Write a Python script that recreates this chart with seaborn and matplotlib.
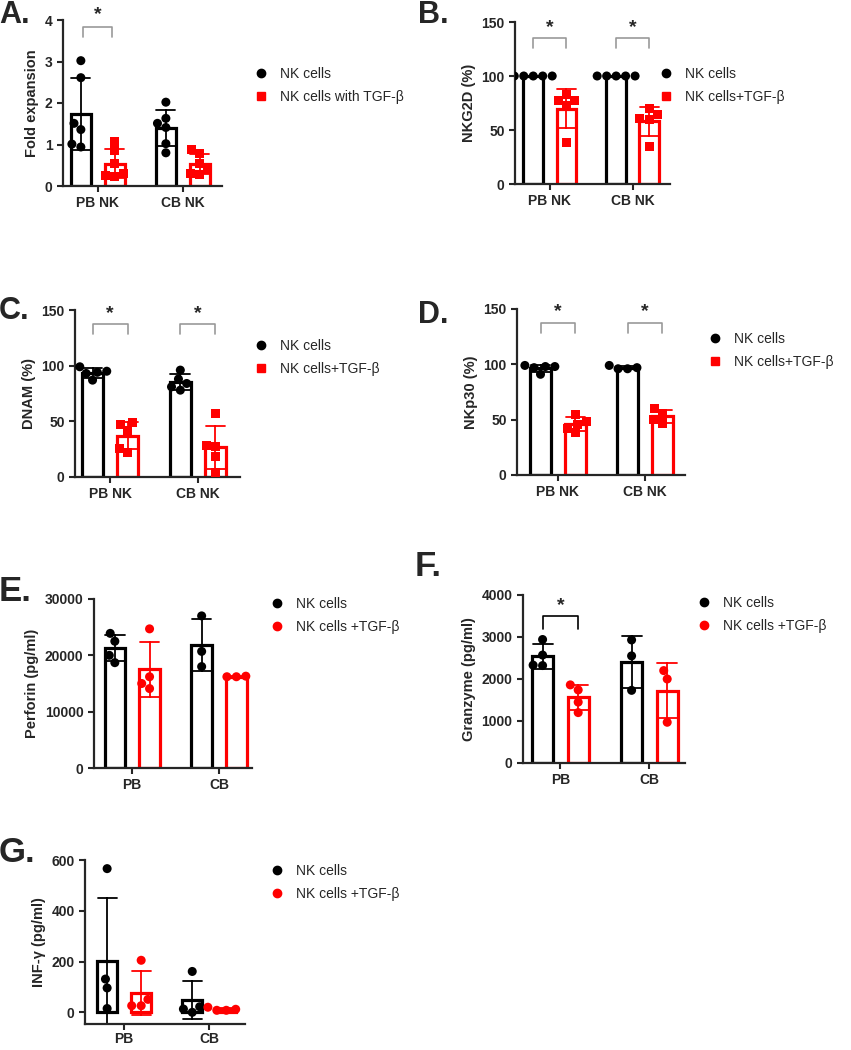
import numpy as np
import pandas as pd
import matplotlib
matplotlib.use("Agg")
import matplotlib.pyplot as plt
import seaborn as sns
from matplotlib.lines import Line2D

# A. fold expansion
a_groups = ["PB NK", "CB NK"]
a_nk = [[3.02, 2.61, 1.51, 1.36, 1.01, 0.94], [2.02, 1.63, 1.51, 1.41, 1.02, 0.80]]
a_tgf = [[1.08, 0.85, 0.55, 0.30, 0.25, 0.22], [0.87, 0.78, 0.55, 0.40, 0.30, 0.28]]

# B. NKG2D
b_nk = [[100, 100, 100, 100, 100], [100, 100, 100, 100, 100]]
b_tgf = [[83, 77, 77, 73, 38], [70, 64, 61, 60, 35]]

# C. DNAM
c_nk = [[99, 95, 94, 93, 87], [96, 88, 84, 81, 78]]
c_tgf = [[49, 47, 42, 26, 22], [57, 28, 27, 18, 4]]

# D. NKp30
d_nk = [[99, 98, 98, 97, 91], [99, 97, 96, 96]]
d_tgf = [[55, 48, 46, 42, 38], [60, 56, 50, 47]]

# E-G. cytokines
cyt_groups = ["PB", "CB"]
e_nk = [[23900, 22500, 20000, 18700], [27000, 20700, 18000]]
e_tgf = [[24700, 16200, 15000, 14100], [16200, 16300, 16200]]
f_nk = [[2940, 2570, 2330, 2320], [2930, 2550, 1730]]
f_tgf = [[1860, 1740, 1450, 1200], [2200, 2000, 970]]
g_nk = [[566, 131, 96, 15], [161, 22, 13, 0]]
g_tgf = [[205, 51, 26, 26], [20, 12, 8, 8]]

W, H = 851, 1050
RED = "#ff0000"
CLEAR = (0, 0, 0, 0)
conds = ["NK", "TGF"]
pal = {"NK": "black", "TGF": RED}

sns.set_style("ticks")
plt.rcParams["font.family"] = ["Liberation Sans", "DejaVu Sans"]

fig = plt.figure(figsize=(W / 100, H / 100), dpi=100)


def make_df(groups, nk, tgf):
    rows = []
    for g, vals in zip(groups, nk):
        rows += [(g, "NK", v) for v in vals]
    for g, vals in zip(groups, tgf):
        rows += [(g, "TGF", v) for v in vals]
    return pd.DataFrame(rows, columns=["group", "cond", "value"])


def panel(rect, groups, nk, tgf, markers, ylim, yticks, ylabel, xlim, xpad=3.5):
    l, t, r, b = rect
    ax = fig.add_axes([l / W, 1 - b / H, (r - l) / W, (b - t) / H])
    df = make_df(groups, nk, tgf)
    sns.barplot(data=df, x="group", y="value", hue="cond", hue_order=conds,
                order=groups, palette=pal, fill=False, errorbar="sd",
                capsize=0.45, err_kws={"linewidth": 1.3},
                linewidth=2.3, gap=0.41, legend=False, ax=ax)
    # error bars take the colour of their own bar
    for ln in ax.lines:
        xm = np.nanmean(np.asarray(ln.get_xdata(), dtype=float))
        ln.set_color("black" if xm - np.round(xm) < 0 else RED)
    # one swarm per condition so each can carry its own marker
    for cond, mk in zip(conds, markers):
        p = {c: (pal[c] if c == cond else CLEAR) for c in conds}
        sns.swarmplot(data=df, x="group", y="value", hue="cond", hue_order=conds,
                      order=groups, palette=p, dodge=True, marker=mk,
                      size=6.5, linewidth=0, legend=False, zorder=3,
                      warn_thresh=1, ax=ax)
    ax.set_xlim(*xlim)
    ax.set_ylim(*ylim)
    ax.set_yticks(yticks)
    ax.set_xlabel("")
    ax.set_ylabel(ylabel, fontsize=10.5, fontweight="bold", labelpad=4)
    sns.despine(ax=ax)
    for s in ["left", "bottom"]:
        ax.spines[s].set_linewidth(1.6)
    ax.tick_params(width=1.5, length=4, labelsize=10)
    ax.tick_params(axis="x", pad=xpad)
    for lab in ax.get_xticklabels() + ax.get_yticklabels():
        lab.set_fontweight("bold")
    return ax


def bracket(ax, x, lo, hi, star, color="#999999", half=0.2):
    x0, x1 = x - half, x + half
    ax.plot([x0, x0, x1, x1], [lo, hi, hi, lo], color=color, lw=1.2, clip_on=False)
    ax.text(x, star, "*", ha="center", va="center", fontsize=14, fontweight="bold",
            clip_on=False)


def legend(x, y, labels, markers):
    handles = [Line2D([], [], ls="", marker=m, color=c, markersize=6)
               for m, c in zip(markers, ["black", RED])]
    fig.legend(handles, labels, loc="upper left", bbox_to_anchor=(x / W, 1 - y / H),
               frameon=False, fontsize=10, handlelength=0.8, handletextpad=1.0,
               labelspacing=0.62, borderpad=0, borderaxespad=0)


def letter(x, y, s, size=22):
    fig.text(x / W, 1 - y / H, s, fontsize=size, fontweight="bold", va="top")


circ_sq = ["o", "s"]
circ = ["o", "o"]

ax = panel((63, 20, 222, 186), a_groups, a_nk, a_tgf, circ_sq, (0, 4), range(5),
           "Fold expansion", (-0.41, 1.46))
bracket(ax, 0, 3.6, 3.84, 4.12, half=0.17)
legend(255, 67, ["NK cells", "NK cells with TGF-β"], circ_sq)
letter(-1, 0, "A.")

ax = panel((515, 22, 670, 184), a_groups, b_nk, b_tgf, circ_sq, (0, 150),
           range(0, 151, 50), "NKG2D (%)", (-0.42, 1.45))
bracket(ax, 0, 126, 135, 145)
bracket(ax, 1, 126, 135, 145)
legend(660, 67, ["NK cells", "NK cells+TGF-β"], circ_sq)
letter(418, 0, "B.")

ax = panel((75, 310, 240, 477), a_groups, c_nk, c_tgf, circ_sq, (0, 150),
           range(0, 151, 50), "DNAM (%)", (-0.40, 1.48))
bracket(ax, 0, 128, 137, 147)
bracket(ax, 1, 128, 137, 147)
legend(255, 339, ["NK cells", "NK cells+TGF-β"], circ_sq)
letter(-1, 296, "C.")

ax = panel((517, 309, 685, 475), a_groups, d_nk, d_tgf, circ_sq, (0, 150),
           range(0, 151, 50), "NKp30 (%)", (-0.47, 1.46))
bracket(ax, 0, 128, 137, 148)
bracket(ax, 1, 128, 137, 148)
legend(709, 332, ["NK cells", "NK cells+TGF-β"], circ_sq)
letter(418, 300, "D.")

ax = panel((94, 599, 252, 768), cyt_groups, e_nk, e_tgf, circ, (0, 30000),
           range(0, 30001, 10000), "Perforin (pg/ml)", (-0.44, 1.38))
legend(271, 597, ["NK cells", "NK cells +TGF-β"], circ)
letter(-1, 575, "E.", 25)

ax = panel((523, 595, 685, 763), cyt_groups, f_nk, f_tgf, circ, (0, 4000),
           range(0, 4001, 1000), "Granzyme (pg/ml)", (-0.42, 1.40))
bracket(ax, 0, 3190, 3500, 3760, color="black")
legend(698, 596, ["NK cells", "NK cells +TGF-β"], circ)
letter(415, 550, "F.", 25)

ax = panel((85, 860, 245, 1024), cyt_groups, g_nk, g_tgf, circ, (-46, 600),
           range(0, 601, 200), "INF-γ (pg/ml)", (-0.46, 1.42), xpad=2)
legend(271, 864, ["NK cells", "NK cells +TGF-β"], circ)
letter(-1, 836, "G.", 25)

fig.savefig("out.png", dpi=100)
